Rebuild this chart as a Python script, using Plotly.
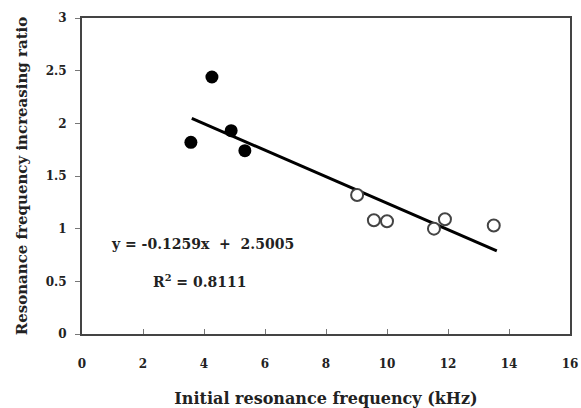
import plotly.graph_objects as go

filled_x = [3.57, 4.26, 4.89, 5.34]
filled_y = [1.82, 2.44, 1.93, 1.74]
open_x = [9.02, 9.57, 10.0, 11.54, 11.9, 13.5]
open_y = [1.32, 1.08, 1.07, 1.00, 1.09, 1.03]
slope = -0.1259
intercept = 2.5005
r2 = 0.8111
fit_x = [3.6, 13.6]
fit_y = [slope * x + intercept for x in fit_x]

FONT = "DejaVu Serif"
fig = go.Figure()
fig.add_trace(go.Scatter(x=fit_x, y=fit_y, mode="lines",
                         line=dict(color="black", width=3), showlegend=False))
fig.add_trace(go.Scatter(x=filled_x, y=filled_y, mode="markers",
                         marker=dict(color="black", size=13), showlegend=False))
fig.add_trace(go.Scatter(x=open_x, y=open_y, mode="markers",
                         marker=dict(color="white", size=12, symbol="circle",
                                     line=dict(color="#444", width=2)),
                         showlegend=False))

fig.add_annotation(x=0.9, y=0.85, xref="x", yref="y", xanchor="left",
                   text="y = -0.1259x  +  2.5005", showarrow=False,
                   font=dict(family=FONT, size=14, color="#222", weight="bold"))
fig.add_annotation(x=3.87, y=0.5, xref="x", yref="y", xanchor="center",
                   text="R<sup>2</sup> = 0.8111", showarrow=False,
                   font=dict(family=FONT, size=14, color="#222", weight="bold"))

axis_common = dict(showgrid=False, zeroline=False, showline=True, mirror=True,
                   linecolor="#444", linewidth=2, ticklen=5, tickcolor="#777",
                   automargin=False,
                   tickfont=dict(family=FONT, size=12, color="#222", weight="bold"))
fig.update_xaxes(range=[0, 16], dtick=2, ticks="inside", ticklabelstandoff=18,
                 title=dict(text="Initial resonance frequency (kHz)", standoff=22,
                            font=dict(family=FONT, size=16, color="#222", weight="bold")),
                 **axis_common)
fig.update_yaxes(range=[0, 3], dtick=0.5, ticks="outside", ticklabelstandoff=6,
                 title=dict(text="Resonance frequency increasing ratio", standoff=14,
                            font=dict(family=FONT, size=15, color="#222", weight="bold")),
                 **axis_common)
fig.update_layout(width=581, height=408, margin=dict(l=82, r=11, t=18, b=74),
                  plot_bgcolor="white", paper_bgcolor="white")
fig.write_html("out.html")
